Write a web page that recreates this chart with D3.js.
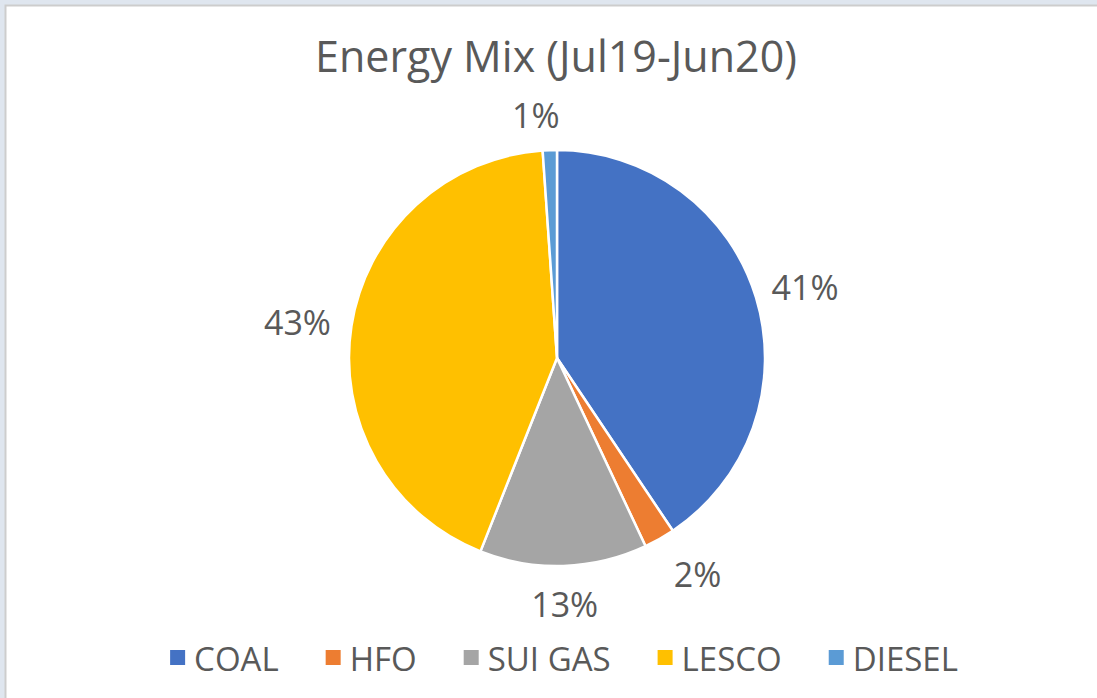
<!DOCTYPE html>
<html>
<head>
<meta charset="utf-8">
<script src="https://cdn.jsdelivr.net/npm/d3@7"></script>
<style>
  html, body { margin: 0; padding: 0; background: #dfe6ef; }
  svg { display: block; }
</style>
</head>
<body>
<svg id="chart" width="1097" height="698"></svg>
<script>
// slices, clockwise from 12 o'clock
const categories = ['COAL', 'HFO', 'SUI GAS', 'LESCO', 'DIESEL'];
const shares = [40.6, 2.4, 13.0, 42.9, 1.1];
const sliceColors = ['#4472c4', '#ed7d31', '#a5a5a5', '#ffc000', '#5b9bd5'];
const title = 'Energy Mix (Jul19-Jun20)';

const width = 1097;
const height = 698;
const svg = d3.select('#chart');
const textColor = '#595959';
const font = '"Open Sans", sans-serif';

// white chart area with thin grey edge
svg.append('rect')
  .attr('x', 5.5)
  .attr('y', 5.5)
  .attr('width', width)
  .attr('height', height)
  .attr('fill', '#fff')
  .attr('stroke', '#cdcdcd')
  .attr('stroke-width', 2);

svg.append('text')
  .attr('x', 556)
  .attr('y', 72)
  .attr('text-anchor', 'middle')
  .attr('font-family', font)
  .attr('font-size', 43)
  .attr('fill', textColor)
  .text(title);

const center = { x: 557, y: 358 };
const radius = 208;

const data = categories.map((name, i) => ({ name, value: shares[i], color: sliceColors[i] }));
const pie = d3.pie().sort(null).value(d => d.value);
const arcs = pie(data);
const arc = d3.arc().innerRadius(0).outerRadius(radius);

const g = svg.append('g')
  .attr('transform', `translate(${center.x},${center.y})`);

g.selectAll('path')
  .data(arcs)
  .enter()
  .append('path')
  .attr('d', arc)
  .attr('fill', d => d.data.color)
  .attr('stroke', '#fff')
  .attr('stroke-width', 2.5)
  .attr('stroke-linejoin', 'round');

// labels sit just outside the rim (best-fit style nudges, degrees)
const labelRadius = [258, 258, 246, 262, 244];
const labelNudge = [1, -3.5, 0, -1, -3];
g.selectAll('text')
  .data(arcs)
  .enter()
  .append('text')
  .attr('transform', (d, i) => {
    const a = (d.startAngle + d.endAngle) / 2 + labelNudge[i] * Math.PI / 180;
    const r = labelRadius[i];
    return `translate(${Math.sin(a) * r},${-Math.cos(a) * r})`;
  })
  .attr('text-anchor', 'middle')
  .attr('dominant-baseline', 'central')
  .attr('font-family', font)
  .attr('font-size', 34)
  .attr('fill', textColor)
  .text(d => `${Math.round(d.data.value)}%`);

// legend
const legend = svg.append('g')
  .attr('class', 'legend')
  .attr('transform', 'translate(0,658)');

const items = legend.selectAll('g')
  .data(data)
  .enter()
  .append('g');

items.append('rect')
  .attr('y', -8)
  .attr('width', 15)
  .attr('height', 15)
  .attr('fill', d => d.color);

items.append('text')
  .attr('x', 24)
  .attr('y', 0)
  .attr('dominant-baseline', 'central')
  .attr('font-family', font)
  .attr('font-size', 33)
  .attr('fill', textColor)
  .text(d => d.name);

// lay items out side by side, centred
const gap = 47;
const offsets = [];
let total = 0;
items.each(function () {
  const w = this.getBBox().width;
  offsets.push(total);
  total += w + gap;
});
total -= gap;
const startX = 564 - total / 2;
items.attr('transform', (d, i) => `translate(${startX + offsets[i]},0)`);
</script>
</body>
</html>
